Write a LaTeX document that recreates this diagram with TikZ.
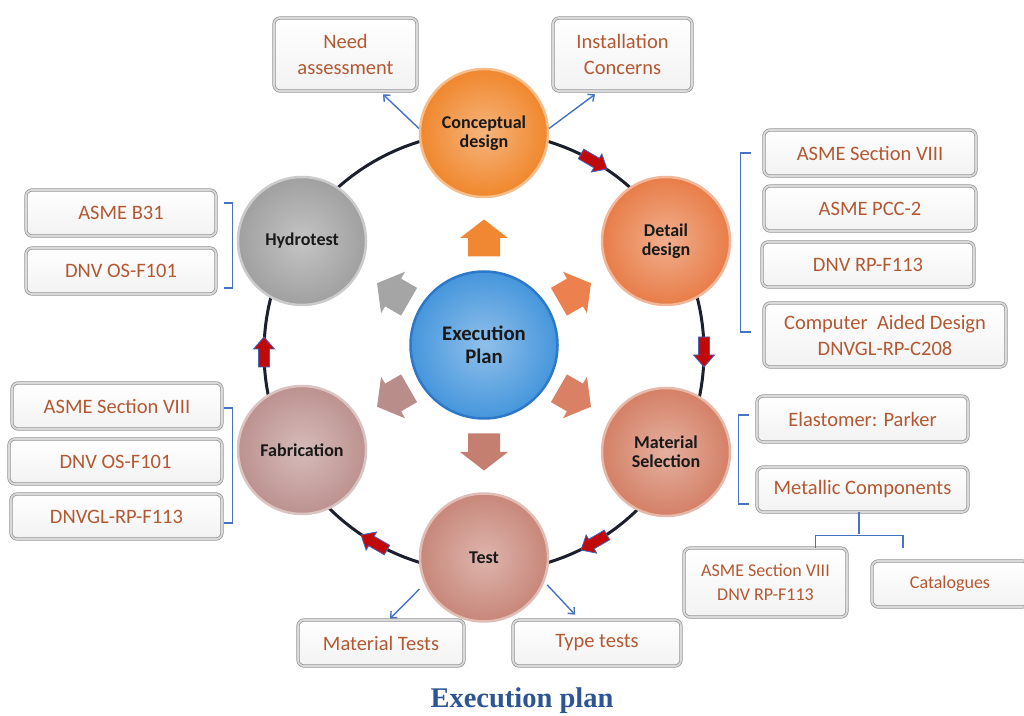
\documentclass[tikz,border=0pt]{standalone}
\usepackage{fontspec}
\setmainfont{Carlito}
\newfontfamily\capfont{Liberation Serif}
\usetikzlibrary{calc,arrows.meta}
\definecolor{boxtext}{RGB}{180,88,50}
\definecolor{brk}{RGB}{70,115,195}
\definecolor{ringc}{RGB}{28,32,45}
\definecolor{redarr}{RGB}{192,10,10}
\definecolor{redout}{RGB}{70,100,190}
\definecolor{cconcept}{RGB}{240,135,45}
\definecolor{cdetail}{RGB}{232,125,72}
\definecolor{cmat}{RGB}{212,128,102}
\definecolor{ctest}{RGB}{200,135,122}
\definecolor{cfab}{RGB}{188,146,143}
\definecolor{chydro}{RGB}{160,160,160}
\definecolor{cexec}{RGB}{70,150,220}
\definecolor{cexecrim}{RGB}{45,120,200}
\definecolor{capc}{RGB}{45,85,150}
\definecolor{ba1}{RGB}{240,135,50}
\definecolor{ba2}{RGB}{236,128,78}
\definecolor{ba3}{RGB}{218,128,100}
\definecolor{ba4}{RGB}{197,127,112}
\definecolor{ba5}{RGB}{185,142,138}
\definecolor{ba6}{RGB}{165,165,165}
\tikzset{
  redtip/.pic={\path[pic actions] (-15,5.5) -- (3,5.5) -- (3,10.5) -- (15,0) -- (3,-10.5) -- (3,-5.5) -- (-15,-5.5) -- cycle;},
  blockarr/.pic={\path[pic actions] (-18.5,16) -- (0,16) -- (0,24) -- (18.5,0) -- (0,-24) -- (0,-16) -- (-18.5,-16) -- cycle;},
  bx/.style={draw=gray!85, double=gray!30, double distance=1.8pt, line width=0.7pt,
    rounded corners=6pt, top color=white, bottom color=gray!10, text=boxtext,
    font=\fontsize{20.5}{26}\selectfont, align=center, inner sep=1pt},
  sbx/.style={bx, font=\fontsize{18}{24}\selectfont},
  stagecirc/.style={circle, minimum size=128pt, inner sep=0pt, align=center,
    font=\bfseries\fontsize{18}{19.5}\selectfont, text=black!90, line width=2.5pt,
    inner color=#1!62!white, outer color=#1, draw=#1!55!white},
  brkline/.style={draw=brk, line width=1.2pt},
  thinarr/.style={draw=brk, line width=1.4pt, -{Straight Barb[length=5pt,width=9pt]}},
  redstyle/.style={fill=redarr, draw=redout, line width=0.8pt}
}
\begin{document}
\begin{tikzpicture}[x=1pt,y=1pt]
\fill[white] (0,0) rectangle (1024,715);
\useasboundingbox (0,0) rectangle (1024,715);

% ring
\coordinate (R0) at (484,363);
\draw[ringc, line width=3pt] (R0) circle (220);

% red arrows on ring
\pic[redstyle, rotate=-30]  at ($(R0)+(60:220)$)  {redtip};
\pic[redstyle, rotate=-90]  at ($(R0)+(0:220)$)   {redtip};
\pic[redstyle, rotate=-150] at ($(R0)+(-60:220)$) {redtip};
\pic[redstyle, rotate=150]  at ($(R0)+(240:220)$) {redtip};
\pic[redstyle, rotate=90]   at ($(R0)+(180:220)$) {redtip};

% stage circles
\node[stagecirc=cconcept] (concept) at (484,582) {Conceptual\\design};
\node[stagecirc=cdetail]  (detail)  at (666,474) {Detail\\design};
\node[stagecirc=cmat]     (matsel)  at (666,263) {Material\\Selection};
\node[stagecirc=ctest]    (test)    at (484,157.5) {Test};
\node[stagecirc=cfab]     (fab)     at (302,265) {Fabrication};
\node[stagecirc=chydro]   (hydro)   at (302,474) {Hydrotest};

% centre
\node[circle, minimum size=147pt, inner sep=0pt, align=center, line width=2.5pt,
  inner color=cexec!60!white, outer color=cexec, draw=cexecrim,
  font=\bfseries\fontsize{20.7}{23}\selectfont, text=black!90] (exec) at (484,370) {Execution\\Plan};

% block arrows from centre
\pic[fill=ba1, rotate=90]  at ($(exec)+(90:107)$)  {blockarr};
\pic[fill=ba2, rotate=30]  at ($(exec)+(30:105)$)  {blockarr};
\pic[fill=ba3, rotate=-30] at ($(exec)+(-30:105)$) {blockarr};
\pic[fill=ba4, rotate=-90] at ($(exec)+(-90:107)$) {blockarr};
\pic[fill=ba5, rotate=210] at ($(exec)+(210:105)$) {blockarr};
\pic[fill=ba6, rotate=150] at ($(exec)+(150:105)$) {blockarr};

% boxes
\node[bx, minimum width=143pt, minimum height=73pt] (need) at (345.5,660.5) {Need\\assessment};
\node[bx, minimum width=139pt, minimum height=73pt] (inst) at (622.5,660.5) {Installation\\Concerns};

\node[bx, minimum width=212pt, minimum height=46pt] (r1) at (870,562) {ASME Section VIII};
\node[bx, minimum width=212pt, minimum height=45pt] (r2) at (870,506.5) {ASME PCC-2};
\node[bx, minimum width=212pt, minimum height=45pt] (r3) at (868,450.5) {DNV RP-F113};
\node[bx, minimum width=242pt, minimum height=64pt] (cad) at (885,380) {Computer\ \ Aided Design\\DNVGL-RP-C208};

\node[bx, minimum width=211pt, minimum height=46pt] (elast) at (862.5,296) {Elastomer: Parker};
\node[bx, minimum width=211pt, minimum height=45pt] (metal) at (862.5,225.5) {Metallic Components};
\node[sbx, minimum width=163pt, minimum height=69pt] (asme2) at (765.5,132.5) {ASME Section VIII\\DNV RP-F113};
\node[sbx, minimum width=156pt, minimum height=46pt] (cat) at (950,131) {Catalogues};

\node[bx, minimum width=190pt, minimum height=46pt] (l1) at (121,502) {ASME B31};
\node[bx, minimum width=190pt, minimum height=46pt] (l2) at (121,444) {DNV OS-F101};

\node[bx, minimum width=210pt, minimum height=46pt] (f1) at (117,309) {ASME Section VIII};
\node[bx, minimum width=213pt, minimum height=45pt] (f2) at (115.5,253.5) {DNV OS-F101};
\node[bx, minimum width=211pt, minimum height=45pt] (f3) at (116.5,198.5) {DNVGL-RP-F113};

\node[bx, minimum width=166pt, minimum height=46pt] (mt) at (381,72) {Material Tests};
\node[bx, minimum width=168pt, minimum height=46pt] (tt) at (597,72) {Type tests};

% thin blue arrows
\draw[thinarr] (concept.176) -- ($(need.south)+(37.5,-3)$);
\draw[thinarr] (concept.4) -- ($(inst.south)+(-27.5,-3)$);
\draw[thinarr, shorten <=7pt] (test.204) -- ($(mt.north)+(9,1)$);
\draw[thinarr, shorten <=4pt] (test.-22) -- ($(tt.north)+(-22,5)$);

% brackets
\draw[brkline] ($(r1.west)+(-13,0)$) -| ($(cad.west)+(-23,3)$) -- ++(10,0);
\draw[brkline] ($(elast.west)+(-8,4)$) -| ($(metal.west)+(-18,-14.5)$) -- ++(10,0);
\draw[brkline] ($(l1.east)+(8,10)$) -| ($(l2.east)+(16,-17)$) -- ++(-8,0);
\draw[brkline] ($(f1.east)+(2,-2)$) -| ($(f3.east)+(10,-6.5)$) -- ++(-8,0);

% tree below Metallic Components
\draw[brkline] ($(metal.south)+(-3.5,0)$) -- ++(0,-22);
\draw[brkline] ($(asme2.north)+(50,0)$) -- ++(0,12) -| ($(cat.north)+(-47,13)$);

% caption
\node[anchor=base, text=capc, font=\capfont\bfseries\fontsize{28.5}{30}\selectfont] (cap) at (522,7.5) {Execution plan};
\end{tikzpicture}
\end{document}
